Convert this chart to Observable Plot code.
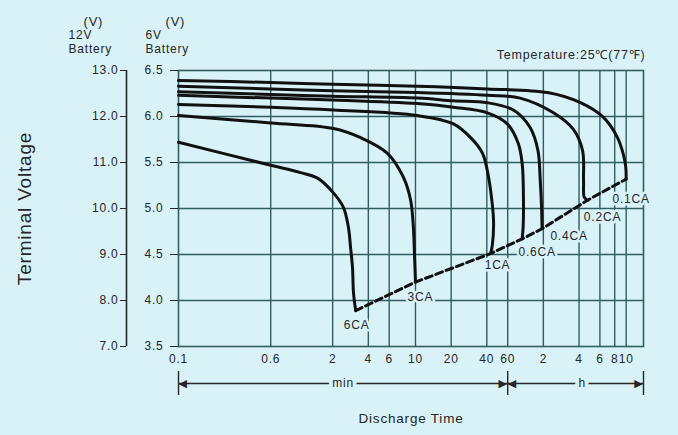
<!DOCTYPE html>
<html><head><meta charset="utf-8">
<script src="https://cdn.jsdelivr.net/npm/d3@7"></script>
<script src="https://cdn.jsdelivr.net/npm/@observablehq/plot@0.6"></script>
<style>
html,body{margin:0;padding:0;background:#d8f2f7;}
#chart svg{display:block;}
</style></head><body><div id="chart"></div>
<script>
// ---- data (time in minutes, voltage per 6V battery; 12V = 2x) ----
const rates = ["6CA", "3CA", "1CA", "0.6CA", "0.4CA", "0.2CA", "0.1CA"];
const t6CA = [0.1, 0.6, 1.07, 1.49, 2.03, 2.47, 2.72, 2.83, 2.94, 3.0, 3.13];
const v6CA = [5.72, 5.47, 5.39, 5.33, 5.17, 5.01, 4.79, 4.58, 4.36, 4.08, 3.89];
const t3CA = [0.1, 0.6, 2.03, 3.45, 5.8, 7.9, 9.1, 9.6, 9.8, 10.0];
const v3CA = [6.01, 5.93, 5.87, 5.77, 5.60, 5.34, 5.09, 4.79, 4.51, 4.20];
const t1CA = [0.1, 0.6, 2.03, 10.4, 20.9, 29.2, 36.8, 40.4, 44, 45.6, 44.5, 43];
const v1CA = [6.13, 6.10, 6.07, 6.01, 5.92, 5.77, 5.60, 5.41, 5.10, 4.85, 4.60, 4.51];
const t06CA = [0.1, 0.6, 2, 10.4, 20.9, 40.4, 59.5, 73.6, 79.5, 81.5, 81, 79.5];
const v06CA = [6.23, 6.20, 6.18, 6.14, 6.10, 6.04, 5.92, 5.71, 5.49, 5.10, 4.80, 4.67];
const t04CA = [0.1, 0.6, 2, 10.4, 20.9, 40.4, 67, 92.8, 108, 113, 116, 117];
const v04CA = [6.27, 6.24, 6.22, 6.20, 6.17, 6.15, 6.07, 5.88, 5.63, 5.30, 5.00, 4.78];
const t02CA = [0.1, 0.6, 2, 10.4, 40.4, 76.4, 146, 215, 257, 262, 266, 283];
const v02CA = [6.33, 6.30, 6.28, 6.26, 6.23, 6.20, 6.04, 5.86, 5.63, 5.30, 5.12, 5.09];
const t01CA = [0.1, 0.6, 2, 10.4, 40.4, 130, 247, 386, 507, 570, 595, 600];
const v01CA = [6.39, 6.37, 6.35, 6.33, 6.30, 6.26, 6.15, 5.99, 5.77, 5.58, 5.45, 5.32];

const xTicks = [0.1, 0.6, 2, 4, 6, 10, 20, 40, 60, 120, 240, 360, 480, 600];
const xTickLabels = ["0.1", "0.6", "2", "4", "6", "10", "20", "40", "60", "2", "4", "6", "8", "10"];
const yTicks = [3.5, 4.0, 4.5, 5.0, 5.5, 6.0, 6.5];
const xDomain = [0.1, 840];
const yDomain = [3.5, 6.5];
const minSpan = [0.1, 60];
const hSpan = [60, 840];

// ---- build table ----
const times = [t6CA, t3CA, t1CA, t06CA, t04CA, t02CA, t01CA];
const volts = [v6CA, v3CA, v1CA, v06CA, v04CA, v02CA, v01CA];
const curves = rates.flatMap((r, k) => times[k].map((t, i) => ({rate: r, t, v: volts[k][i]})));
const ends = rates.map((r, k) => ({rate: r, t: times[k][times[k].length - 1], v: volts[k][volts[k].length - 1]}));
const xLabelRows = xTicks.map((t, i) => ({t, label: xTickLabels[i]}));

// ---- styles ----
const bg = "#d8f2f7";
const grid = "#2f5d60";
const ink = "#262626";
const font = "Liberation Sans, Arial, Helvetica, sans-serif";
const labelOffsets = {"6CA": [1, 15], "3CA": [5, 15], "1CA": [7, 12], "0.6CA": [15, 13], "0.4CA": [27, 7], "0.2CA": [15, 17], "0.1CA": [5, 20]};

const labelMarks = ends.map(e => Plot.text([e], {
  x: "t", y: "v", text: "rate",
  dx: labelOffsets[e.rate][0], dy: labelOffsets[e.rate][1],
  fill: ink, stroke: bg, strokeWidth: 5, paintOrder: "stroke", fontSize: 12
}));

const header = (txt, dx, dy, size = 12) => Plot.text([txt], {
  text: d => d, frameAnchor: "top-left", dx, dy, textAnchor: "start", lineAnchor: "bottom",
  fill: ink, fontSize: size
});
const arrowHead = (glyph, x, anchor) => Plot.text([glyph], {
  text: d => d, x, y: yDomain[0], dy: 37, textAnchor: anchor, fill: ink, fontSize: 11, fontFamily: "DejaVu Sans"
});

const chart = Plot.plot({
  width: 678, height: 435,
  marginLeft: 178, marginRight: 35, marginTop: 70, marginBottom: 89,
  style: {background: bg, fontFamily: font, fontSize: "12px", color: ink, letterSpacing: "0.8px"},
  x: {type: "log", domain: xDomain, axis: null},
  y: {domain: yDomain},
  marks: [
    Plot.gridX(xTicks.slice(1), {stroke: grid, strokeOpacity: 1, strokeWidth: 1.4}),
    Plot.gridY(yTicks.slice(1, -1), {stroke: grid, strokeOpacity: 1, strokeWidth: 1.4}),
    Plot.frame({stroke: grid, strokeWidth: 1.6}),
    // 6V axis
    Plot.axisY(yTicks, {anchor: "left", tickSize: 8, tickPadding: 7, tickFormat: d => d.toFixed(1), label: null, stroke: ink, fill: ink, fontSize: 12}),
    // 12V axis
    Plot.axisY(yTicks, {anchor: "left", dx: -52, tickSize: 6, tickPadding: 2, tickFormat: d => (2 * d).toFixed(1), label: null, stroke: ink, fill: ink, fontSize: 12}),
    Plot.ruleX([xDomain[0]], {y1: yDomain[0], y2: yDomain[1], dx: -52, stroke: ink, strokeWidth: 1.6}),
    // x tick labels
    Plot.text(xLabelRows, {x: "t", y: yDomain[0], text: "label", dy: 8, lineAnchor: "top", fill: ink, fontSize: 12}),
    // curves
    Plot.line(curves, {x: "t", y: "v", z: "rate", stroke: "#111", strokeWidth: 3, curve: "catmull-rom", strokeLinecap: "round", strokeLinejoin: "round"}),
    Plot.line(ends, {x: "t", y: "v", stroke: "#111", strokeWidth: 3, strokeDasharray: "7,4"}),
    ...labelMarks,
    // min / h span indicator
    Plot.ruleX([minSpan[0], minSpan[1], hSpan[1]], {y1: yDomain[0], y2: yDomain[0], insetTop: -12, insetBottom: -12, dy: 37, stroke: ink, strokeWidth: 1.4}),
    Plot.ruleY([yDomain[0]], {x1: minSpan[0], x2: minSpan[1], dy: 37, stroke: ink, strokeWidth: 1.4}),
    Plot.ruleY([yDomain[0]], {x1: hSpan[0], x2: hSpan[1], dy: 37, stroke: ink, strokeWidth: 1.4}),
    arrowHead("◀", minSpan[0], "start"),
    arrowHead("▶", minSpan[1], "end"),
    arrowHead("◀", hSpan[0], "start"),
    arrowHead("▶", hSpan[1], "end"),
    Plot.text(["min"], {text: d => d, x: Math.sqrt(minSpan[0] * minSpan[1]), y: yDomain[0], dy: 37, fill: ink, stroke: bg, strokeWidth: 8, paintOrder: "stroke", fontSize: 12}),
    Plot.text(["h"], {text: d => d, x: 255, y: yDomain[0], dy: 37, fill: ink, stroke: bg, strokeWidth: 8, paintOrder: "stroke", fontSize: 12}),
    // titles
    Plot.text(["Discharge Time"], {text: d => d, frameAnchor: "bottom", dy: 76, fill: ink, fontSize: 13.5}),
    Plot.text(["Terminal Voltage"], {text: d => d, frameAnchor: "left", textAnchor: "middle", dx: -154, rotate: -90, fill: ink, fontSize: 19}),
    Plot.text(["Temperature:25℃(77℉)"], {text: d => d, frameAnchor: "top-right", dx: 2, dy: -12, textAnchor: "end", lineAnchor: "bottom", fill: ink, fontSize: 12.5}),
    header("(V)", -95, -45, 13),
    header("12V", -110, -32),
    header("Battery", -110, -18),
    header("(V)", -13, -45, 13),
    header("6V", -33, -32),
    header("Battery", -33, -18)
  ]
});
document.getElementById("chart").appendChild(chart);
</script></body></html>
